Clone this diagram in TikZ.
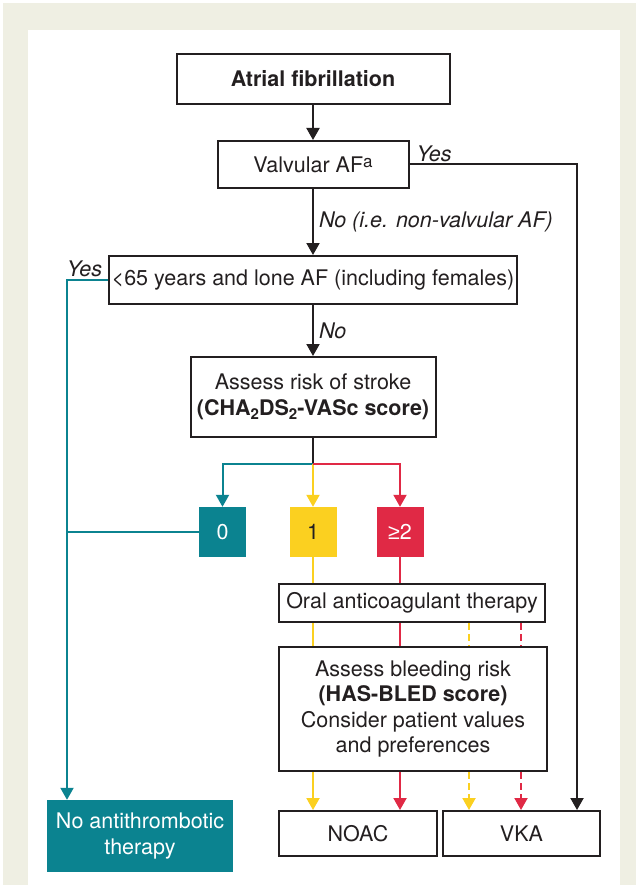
\documentclass[tikz,border=0pt]{standalone}
\usepackage{fontspec}
\setmainfont{TeX Gyre Heros}
\newfontfamily\signfont{Liberation Sans}
\usetikzlibrary{arrows.meta}
\definecolor{paper cream}{rgb}{0.9373, 0.9373, 0.8902}
\definecolor{score teal}{rgb}{0.0431, 0.5137, 0.5647}
\definecolor{score yellow}{rgb}{0.9843, 0.8157, 0.1255}
\definecolor{score red}{rgb}{0.8784, 0.1608, 0.2706}
\definecolor{ink}{rgb}{0.1373, 0.1216, 0.1255}

\begin{document}
\begin{tikzpicture}[x=1pt, y=-1pt,
		every node/.style={font=\fontsize{21.5}{25.5}\selectfont},
		box/.style={draw=ink, line width=2pt, fill=white, align=center, inner sep=0pt, text=ink},
		score/.style={inner sep=0pt, minimum width=47pt, minimum height=50pt},
		flow/.style={line width=2pt},
		pointer/.style={-{Triangle[width=13pt, length=12pt]}},
		broken/.style={dash pattern=on 7pt off 4pt},
		answer/.style={font=\fontsize{21.5}{25.5}\selectfont\itshape, inner sep=2pt, text=ink}]
			% page
			\useasboundingbox (0, 0) rectangle (636, 885);
			\fill[paper cream] (3, 3) rectangle (636, 885);
			\fill[white] (28, 30) rectangle (620, 885);
			% questions
			\node[box, minimum width=273pt, minimum height=50pt] (af) at (313, 79) {\textbf{Atrial fibrillation}};
			\node[box, minimum width=191pt, minimum height=47pt] (valv) at (313, 164.5) {Valvular AF{\fontsize{17}{17}\selectfont\raisebox{0.5ex}{a}}};
			\node[box, minimum width=408pt, minimum height=48pt] (lone) at (313, 280) {<65 years and lone AF (including females)};
			\node[box, minimum width=245pt, minimum height=80pt] (stroke) at (313, 397)
				{Assess risk of stroke\\\textbf{(CHA\raisebox{-0.35ex}{\fontsize{15}{15}\selectfont 2}DS\raisebox{-0.35ex}{\fontsize{15}{15}\selectfont 2}-VASc score)}};
			% scores
			\node[score, fill=score teal, text=white] (s0) at (222.5, 532) {0};
			\node[score, fill=score yellow, text=ink] (s1) at (313, 532) {1};
			\node[score, fill=score red, text=white] (s2) at (400, 532) {{\signfont ≥}2};
			% therapy
			\node[box, minimum width=266pt, minimum height=38pt] (oat) at (412, 603) {Oral anticoagulant therapy};
			\node[box, minimum width=268pt, minimum height=124pt] (bleed) at (413, 709)
				{Assess bleeding risk\\\textbf{(HAS-BLED score)}\\Consider patient values\\and preferences};
			\node[box, minimum width=158pt, minimum height=45pt] (noac) at (358, 833.5) {NOAC};
			\node[box, minimum width=157pt, minimum height=45pt] (vka) at (521.5, 833.5) {VKA};
			\node[score, fill=score teal, text=white, align=center, minimum width=186pt, minimum height=72pt]
				(none) at (140, 836) {No antithrombotic\\therapy};
			% black path
			\coordinate (yesdrop) at (577, 164.5);
			\coordinate (split) at (313, 464);
			\draw[flow, pointer, ink] (af) -- (valv);
			\draw[flow, pointer, ink] (valv.south) -- node[answer, right, xshift=3pt] (nonvalv) {No (i.e. non-valvular AF)} (lone.north);
			\draw[flow, pointer, ink] (valv.east) node[answer, above right, xshift=4pt] (yes1) {Yes}
				-- (yesdrop) -- (yesdrop |- vka.north);
			\draw[flow, pointer, ink] (lone.south) -- node[answer, right, xshift=3pt] (no2) {No} (stroke.north);
			\draw[flow, ink] (stroke.south) -- (split);
			% teal path
			\coordinate (loneturn) at (67, 280);
			\draw[flow, pointer, score teal] (lone.west) node[answer, above left, xshift=-3pt] (yes2) {Yes}
				-- (loneturn) -- (loneturn |- none.north);
			\draw[flow, score teal] (s0.west) -- (s0.west -| loneturn);
			\draw[flow, pointer, score teal] (split) -| (s0.north);
			% yellow and red
			\draw[flow, pointer, score yellow] (split) -- (s1.north);
			\draw[flow, pointer, score red] (split) -| (s2.north);
			\draw[flow, score yellow] (s1.south) -- (s1.south |- oat.north);
			\draw[flow, score red] (s2.south) -- (s2.south |- oat.north);
			\foreach \xpos/\col/\pat/\goal in {313/score yellow/solid/noac, 400/score red/solid/noac,
					469/score yellow/broken/vka, 521/score red/broken/vka} {
				\draw[flow, \col, \pat] (oat.south -| \xpos,0) -- (bleed.north -| \xpos,0);
				\draw[flow, pointer, \col, \pat] (bleed.south -| \xpos,0) -- (\goal.north -| \xpos,0);
			}
		\end{tikzpicture}
\end{document}
